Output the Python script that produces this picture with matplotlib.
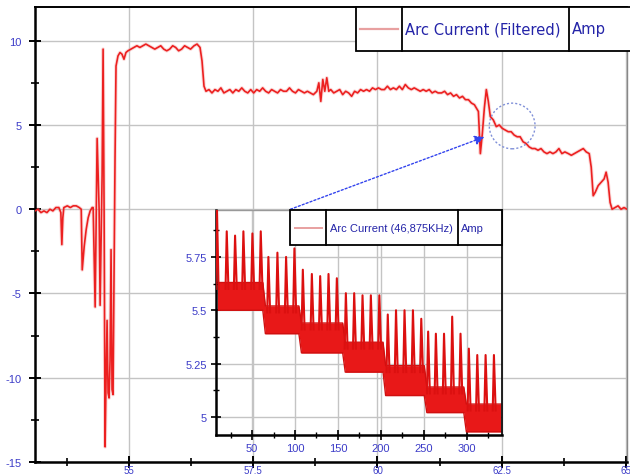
import numpy as np
import matplotlib
matplotlib.use("Agg")
import matplotlib.pyplot as plt
from matplotlib.patches import Rectangle, Ellipse
from matplotlib.ticker import FixedLocator, MultipleLocator

plt.rcParams['font.family'] = ['Liberation Sans', 'DejaVu Sans']
plt.rcParams['axes.unicode_minus'] = False

# ---------------- main series: Arc Current (Filtered), Amp ----------------
time_s = [53.11, 53.17, 53.23, 53.29, 53.35, 53.41, 53.47, 53.53, 53.59, 53.63,
          53.65, 53.67, 53.69, 53.76, 53.82, 53.88, 53.94, 54.00, 54.04, 54.06,
          54.10, 54.14, 54.18, 54.22, 54.26, 54.28, 54.32, 54.36, 54.40, 54.42,
          54.46, 54.48, 54.50, 54.52, 54.54, 54.56, 54.58, 54.60, 54.62, 54.64,
          54.66, 54.68, 54.70, 54.72, 54.74, 54.78, 54.82, 54.86, 54.90, 54.94,
          54.98, 55.04, 55.10, 55.16, 55.22, 55.28, 55.34, 55.40, 55.46, 55.52,
          55.58, 55.64, 55.70, 55.76, 55.82, 55.88, 55.94, 56.00, 56.06, 56.12,
          56.18, 56.24, 56.31, 56.37, 56.43, 56.47, 56.51, 56.55, 56.61, 56.67,
          56.73, 56.79, 56.85, 56.91, 56.97, 57.03, 57.09, 57.15, 57.21, 57.27,
          57.33, 57.39, 57.45, 57.51, 57.57, 57.63, 57.69, 57.75, 57.81, 57.87,
          57.93, 57.99, 58.05, 58.11, 58.17, 58.23, 58.29, 58.35, 58.41, 58.47,
          58.53, 58.59, 58.65, 58.71, 58.78, 58.82, 58.86, 58.90, 58.94, 58.98,
          59.02, 59.06, 59.12, 59.18, 59.24, 59.30, 59.36, 59.42, 59.48, 59.54,
          59.60, 59.66, 59.72, 59.78, 59.84, 59.90, 59.96, 60.02, 60.08, 60.14,
          60.20, 60.26, 60.32, 60.38, 60.44, 60.50, 60.56, 60.62, 60.68, 60.74,
          60.80, 60.86, 60.92, 60.98, 61.04, 61.10, 61.16, 61.22, 61.29, 61.35,
          61.41, 61.47, 61.53, 61.59, 61.65, 61.71, 61.77, 61.83, 61.89, 61.95,
          61.99, 62.03, 62.07, 62.11, 62.15, 62.19, 62.23, 62.27, 62.33, 62.39,
          62.45, 62.51, 62.57, 62.63, 62.69, 62.75, 62.81, 62.87, 62.93, 62.99,
          63.05, 63.11, 63.17, 63.23, 63.29, 63.35, 63.41, 63.47, 63.53, 63.59,
          63.65, 63.71, 63.77, 63.84, 63.90, 63.96, 64.02, 64.08, 64.14, 64.20,
          64.26, 64.30, 64.34, 64.38, 64.44, 64.50, 64.56, 64.60, 64.64, 64.68,
          64.72, 64.78, 64.84, 64.90, 64.96, 65.02, 65.06]
current_a = [-0.1, 0.0, -0.2, -0.1, -0.2, 0.0, -0.1, 0.1, 0.1, -0.2,
             -2.1, -0.5, 0.1, 0.2, 0.1, 0.2, 0.2, 0.1, 0.0, -3.6,
             -2.2, -1.2, -0.5, -0.1, 0.1, 0.1, -5.8, 4.2, 0.0, -5.7,
             2.0, 9.5, 0.0, -14.1, -10.0, -6.6, -10.9, -11.2, -9.0, -2.4,
             -10.7, -11.0, -4.0, 3.0, 8.5, 9.1, 9.3, 9.2, 8.9, 9.3,
             9.4, 9.5, 9.6, 9.7, 9.6, 9.7, 9.8, 9.7, 9.6, 9.5,
             9.6, 9.7, 9.5, 9.4, 9.5, 9.7, 9.6, 9.4, 9.5, 9.7,
             9.6, 9.5, 9.7, 9.8, 9.6, 8.8, 7.3, 7.0, 7.1, 6.9,
             7.1, 7.0, 7.2, 6.9, 7.0, 7.1, 6.9, 7.1, 7.0, 7.2,
             7.0, 6.9, 7.1, 6.9, 7.1, 7.0, 7.2, 7.0, 6.9, 7.1,
             7.0, 6.9, 7.1, 7.0, 7.0, 7.2, 7.0, 6.9, 7.1, 7.0,
             6.9, 7.0, 6.9, 6.8, 7.0, 7.5, 6.4, 7.7, 7.0, 7.8,
             7.0, 7.1, 6.9, 7.0, 7.1, 6.8, 7.0, 6.9, 6.7, 7.0,
             6.9, 7.1, 7.0, 7.1, 7.0, 7.2, 7.1, 7.2, 7.1, 7.1,
             7.3, 7.1, 7.2, 7.1, 7.3, 7.1, 7.4, 7.2, 7.1, 7.2,
             7.1, 7.0, 7.1, 7.0, 7.1, 6.9, 7.0, 6.9, 6.9, 7.0,
             6.8, 6.9, 6.7, 6.8, 6.6, 6.7, 6.5, 6.5, 6.3, 6.2,
             6.0, 5.8, 3.3, 4.5, 6.0, 7.1, 6.4, 5.5, 5.3, 4.9,
             5.0, 4.8, 4.7, 4.6, 4.6, 4.4, 4.3, 4.3, 4.0, 3.9,
             3.7, 3.6, 3.6, 3.5, 3.6, 3.4, 3.3, 3.4, 3.3, 3.4,
             3.6, 3.3, 3.4, 3.3, 3.2, 3.3, 3.4, 3.5, 3.6, 3.4,
             3.3, 2.5, 0.8, 1.0, 1.4, 1.6, 1.8, 2.2, 1.6, 0.4,
             0.0, 0.1, 0.2, 0.0, 0.1, 0.0, 0.0]

main_xticks = [55, 57.5, 60, 62.5, 65]
main_xticklabels = ['55', '57.5', '60', '62.5', '65']
main_yticks = [-15, -10, -5, 0, 5, 10]
main_yticklabels = ['-15', '-10', '-5', '0', '5', '10']

# ---------------- inset: Arc Current (46,875KHz), Amp ----------------
spike_x = [9.0, 20.5, 30.2, 39.9, 50.4, 60.1, 69.0, 79.5, 89.6, 99.3,
           109.1, 119.6, 129.3, 139.0, 148.7, 159.2, 168.9, 178.6, 188.3, 198.2,
           208.0, 217.6, 227.5, 237.3, 247.0, 255.0, 264.0, 273.5, 283.0, 292.7,
           302.4, 312.2, 321.9, 331.6]
spike_top = [6.00, 5.87, 5.85, 5.87, 5.86, 5.87, 5.75, 5.77, 5.75, 5.79,
             5.69, 5.67, 5.66, 5.67, 5.65, 5.58, 5.58, 5.57, 5.57, 5.57,
             5.48, 5.50, 5.50, 5.50, 5.46, 5.40, 5.39, 5.39, 5.47, 5.39,
             5.32, 5.29, 5.29, 5.29]
band_edges = [8, 64, 106, 157, 204, 252, 298, 341]
band_lo = [5.50, 5.39, 5.30, 5.21, 5.10, 5.02, 4.93]
band_hi = [5.63, 5.52, 5.44, 5.35, 5.24, 5.14, 5.06]

inset_xticks = [50, 100, 150, 200, 250, 300]
inset_yticks = [5.0, 5.25, 5.5, 5.75]
inset_yticklabels = ['5', '5.25', '5.5', '5.75']

LABEL_BLUE = '#3c3cc8'
TEXT_BLUE = '#2424a8'
RED = '#ec2020'

fig = plt.figure(figsize=(6.30, 4.77), dpi=100)
fig.patch.set_facecolor('white')

ax = fig.add_axes([35/630, 14/477, 592/630, 455/477])
ax.plot(time_s, current_a, color='#f4a0a0', lw=2.6, zorder=2, solid_joinstyle='round', alpha=0.4)
ax.plot(time_s, current_a, color=RED, lw=1.2, zorder=3, solid_joinstyle='round')
ax.set_xlim(53.11, 65.02)
ax.set_ylim(-15, 12)
ax.xaxis.set_major_locator(FixedLocator(main_xticks))
ax.set_xticklabels(main_xticklabels)
ax.xaxis.set_minor_locator(MultipleLocator(1.25))
ax.yaxis.set_major_locator(FixedLocator(main_yticks))
ax.set_yticklabels(main_yticklabels)
ax.yaxis.set_minor_locator(MultipleLocator(2.5))
ax.grid(True, which='major', color='#c4c4c4', lw=1.0, zorder=0)
ax.tick_params(which='major', direction='inout', length=9, width=1.4, color='black',
               labelcolor=LABEL_BLUE, labelsize=8)
ax.tick_params(which='minor', direction='inout', length=6, width=1.2, color='black')
ax.tick_params(axis='y', pad=5)
ax.tick_params(axis='x', pad=-2.5, labelsize=7)
for s in ['left', 'bottom']:
    ax.spines[s].set_linewidth(1.8)
ax.spines['top'].set_linewidth(1.4)
ax.spines['right'].set_linewidth(1.0)
ax.spines['right'].set_color('#888888')

# legend table of main plot
lw_box = 1.3
ax.add_patch(Rectangle((0.542, 0.904), 1.006 - 0.542, 0.096, transform=ax.transAxes,
                       facecolor='white', edgecolor='black', lw=lw_box, zorder=6, clip_on=False))
for xd in [0.620, 0.902]:
    ax.plot([xd, xd], [0.904, 1.0], transform=ax.transAxes, color='black', lw=lw_box,
            zorder=7, clip_on=False)
ax.plot([0.549, 0.613], [0.952, 0.952], transform=ax.transAxes, color='#e8a0a0', lw=1.6,
        zorder=7, clip_on=False)
ax.text(0.625, 0.952, 'Arc Current (Filtered)', transform=ax.transAxes, color=TEXT_BLUE,
        fontsize=10.6, va='center', ha='left', zorder=8, family=['DejaVu Sans'])
ax.text(0.907, 0.952, 'Amp', transform=ax.transAxes, color=TEXT_BLUE,
        fontsize=10.6, va='center', ha='left', zorder=8, family=['DejaVu Sans'])

# circle marking the zoomed region
ax.add_patch(Ellipse((62.71, 4.94), 0.92, 2.71, facecolor='none', edgecolor='#7f8fd8',
                     lw=1.0, ls=(0, (1.5, 1.5)), zorder=4))
# arrow from inset legend to region
ax.annotate('', xy=(62.15, 4.29), xytext=(58.25, 0.0),
            arrowprops=dict(arrowstyle='-|>', color='#3344ee', lw=1.0, ls=(0, (1.5, 1.5)),
                            mutation_scale=14, shrinkA=0, shrinkB=0), zorder=5)

# ---------------- inset axes ----------------
ins = fig.add_axes([216/630, 41/477, 286/630, 225/477])
ins.patch.set_alpha(0.0)
xs, lo, hi = [], [], []
for i in range(len(band_lo)):
    xs += [band_edges[i] + 1.5, band_edges[i + 1] - 1.5]
    lo += [band_lo[i], band_lo[i]]
    hi += [band_hi[i], band_hi[i]]
ins.fill_between(xs, lo, hi, color='#e81818', lw=0, zorder=2)
ins.plot(xs, hi, color='#d01010', lw=1.0, zorder=2)
ins.plot(xs, lo, color='#d01010', lw=1.0, zorder=2)

lx, ly = [], []
for sx, st in zip(spike_x, spike_top):
    k = max(j for j in range(len(band_lo)) if band_edges[j] <= sx)
    lx += [sx - 1.4, sx, sx + 2.0, np.nan]
    ly += [band_hi[k] - 0.03, st, band_hi[k] - 0.03, np.nan]
ins.plot(lx, ly, color='#dc1010', lw=1.5, zorder=3)

ins.set_xlim(8, 341)
ins.set_ylim(4.915, 5.97)
ins.xaxis.set_major_locator(FixedLocator(inset_xticks))
ins.xaxis.set_minor_locator(MultipleLocator(25))
ins.yaxis.set_major_locator(FixedLocator(inset_yticks))
ins.set_yticklabels(inset_yticklabels)
ins.yaxis.set_minor_locator(MultipleLocator(0.125))
ins.grid(True, which='major', color='#c4c4c4', lw=1.0, zorder=0)
ins.tick_params(which='major', direction='inout', length=7, width=1.2, color='black',
                labelcolor=LABEL_BLUE, labelsize=8)
ins.tick_params(which='minor', direction='inout', length=5, width=1.0, color='black')
ins.tick_params(axis='y', pad=3)
ins.tick_params(axis='x', pad=2)
for s in ['left', 'bottom']:
    ins.spines[s].set_linewidth(1.8)
ins.spines['top'].set_linewidth(1.0)
ins.spines['top'].set_color('#999999')
ins.spines['right'].set_linewidth(1.2)

# inset legend table
ins.add_patch(Rectangle((0.259, 0.845), 1.0 - 0.259, 0.153, transform=ins.transAxes,
                        facecolor='white', edgecolor='black', lw=lw_box, zorder=6, clip_on=False))
for xd in [0.385, 0.846]:
    ins.plot([xd, xd], [0.845, 0.998], transform=ins.transAxes, color='black', lw=lw_box,
             zorder=7, clip_on=False)
ins.plot([0.276, 0.37], [0.92, 0.92], transform=ins.transAxes, color='#e8a0a0', lw=1.4,
         zorder=7, clip_on=False)
ins.text(0.397, 0.92, 'Arc Current (46,875KHz)', transform=ins.transAxes, color=TEXT_BLUE,
         fontsize=8, va='center', ha='left', zorder=8)
ins.text(0.858, 0.92, 'Amp', transform=ins.transAxes, color=TEXT_BLUE,
         fontsize=8, va='center', ha='left', zorder=8)

fig.savefig('out.png', dpi=100, facecolor='white')
